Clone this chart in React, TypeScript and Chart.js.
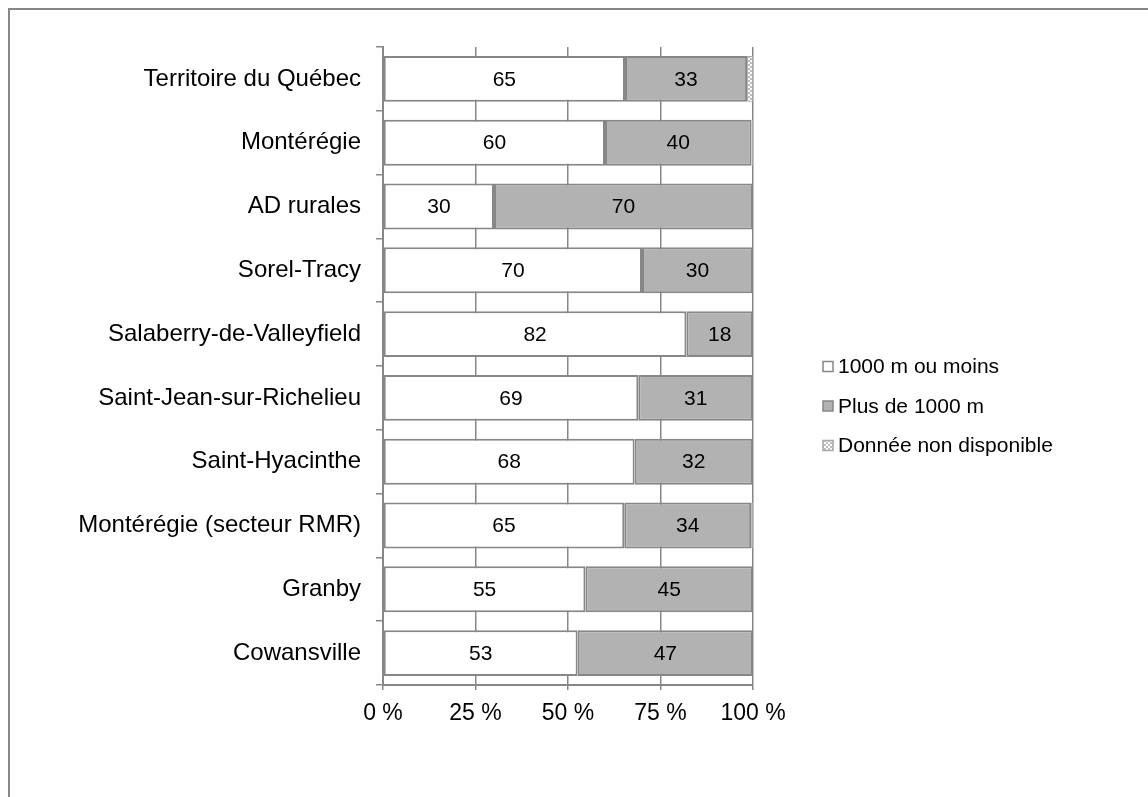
import React, { useEffect, useRef } from "react";
import { Chart, registerables } from "chart.js";

Chart.register(...registerables);

const categories = [
  "Territoire du Québec",
  "Montérégie",
  "AD rurales",
  "Sorel-Tracy",
  "Salaberry-de-Valleyfield",
  "Saint-Jean-sur-Richelieu",
  "Saint-Hyacinthe",
  "Montérégie (secteur RMR)",
  "Granby",
  "Cowansville",
];
const seriesNames = ["1000 m ou moins", "Plus de 1000 m", "Donnée non disponible"];
const within1000 = [65.4, 60.0, 30, 70, 82, 69, 68, 65.2, 54.7, 52.6];
const over1000 = [33.0, 39.6, 70, 30, 18, 31, 32, 34.3, 45.3, 47.4];
const notAvailable = [1.6, 0.4, 0, 0, 0, 0, 0, 0.5, 0, 0];
const xTickValues = [0, 25, 50, 75, 100];

const FONT = '"Liberation Sans", Arial, sans-serif';
const AXIS_GRAY = "#878787";

function makeCheckerPattern(): CanvasPattern | string {
  const c = document.createElement("canvas");
  c.width = 4;
  c.height = 4;
  const g = c.getContext("2d");
  if (!g) return "#dddddd";
  g.fillStyle = "#ffffff";
  g.fillRect(0, 0, 4, 4);
  g.fillStyle = "#bdbdbd";
  g.fillRect(0, 0, 2, 2);
  g.fillRect(2, 2, 2, 2);
  return g.createPattern(c, "repeat") || "#dddddd";
}

const valueLabels = {
  id: "valueLabels",
  afterDatasetsDraw(chart: any) {
    const ctx = chart.ctx;
    ctx.save();
    ctx.font = `21px ${FONT}`;
    ctx.fillStyle = "#000000";
    ctx.textAlign = "center";
    ctx.textBaseline = "middle";
    [0, 1].forEach((di) => {
      const meta = chart.getDatasetMeta(di);
      meta.data.forEach((el: any, i: number) => {
        const v = chart.data.datasets[di].data[i] as number;
        if (!v) return;
        const p = el.getProps(["x", "y", "base"], true);
        ctx.fillText(String(Math.round(v)), (p.x + p.base) / 2, p.y + 1);
      });
    });
    ctx.restore();
  },
};

const sideLegend = {
  id: "sideLegend",
  afterDraw(chart: any) {
    const ctx = chart.ctx;
    const area = chart.chartArea;
    const boxX = area.right + 70;
    const centerY = 406;
    const gap = 39.5;
    ctx.save();
    ctx.font = `21px ${FONT}`;
    ctx.textAlign = "left";
    ctx.textBaseline = "middle";
    chart.data.datasets.forEach((ds: any, i: number) => {
      const y = centerY + (i - 1) * gap;
      ctx.fillStyle = ds.backgroundColor;
      ctx.fillRect(boxX, y - 5, 10, 10);
      ctx.lineWidth = 1.5;
      ctx.strokeStyle = ds.borderColor;
      ctx.strokeRect(boxX, y - 5, 10, 10);
      ctx.fillStyle = "#000000";
      ctx.fillText(ds.label, boxX + 15, y + 1);
    });
    ctx.restore();
  },
};

export default function App() {
  const canvasRef = useRef<HTMLCanvasElement | null>(null);

  useEffect(() => {
    const canvas = canvasRef.current;
    if (!canvas) return;
    const pattern = makeCheckerPattern();
    const chart = new Chart(canvas, {
      type: "bar",
      data: {
        labels: categories,
        datasets: [
          {
            label: seriesNames[0],
            data: within1000,
            backgroundColor: "#ffffff",
            borderColor: AXIS_GRAY,
            borderWidth: 2,
            borderSkipped: false,
          },
          {
            label: seriesNames[1],
            data: over1000,
            backgroundColor: "#b2b2b2",
            borderColor: AXIS_GRAY,
            borderWidth: 2,
            borderSkipped: false,
          },
          {
            label: seriesNames[2],
            data: notAvailable,
            backgroundColor: pattern as any,
            borderColor: "#a8a8a8",
            borderWidth: 1,
            borderSkipped: false,
          },
        ],
      },
      options: {
        indexAxis: "y",
        responsive: false,
        animation: false,
        devicePixelRatio: 1,
        layout: { padding: { left: 0, top: 47, right: 395, bottom: 52 } },
        datasets: {
          bar: { categoryPercentage: 1, barPercentage: 0.72 },
        },
        plugins: {
          legend: { display: false },
          tooltip: { enabled: false },
          title: { display: false },
        },
        scales: {
          x: {
            stacked: true,
            min: 0,
            max: 100,
            afterBuildTicks(scale: any) {
              scale.ticks = xTickValues.map((v) => ({ value: v }));
            },
            afterFit(scale: any) {
              scale.height = 60;
            },
            ticks: {
              color: "#000000",
              font: { family: FONT, size: 23 },
              padding: 10,
              maxRotation: 0,
              callback: (v: any) => `${v} %`,
            },
            grid: {
              color: AXIS_GRAY,
              lineWidth: 1.5,
              drawTicks: true,
              tickLength: 5,
            },
            border: { display: true, color: AXIS_GRAY, width: 2 },
          },
          y: {
            stacked: true,
            afterFit(scale: any) {
              scale.width = 383;
            },
            ticks: {
              color: "#000000",
              font: { family: FONT, size: 24 },
              padding: 15,
            },
            grid: {
              display: true,
              offset: true,
              drawOnChartArea: false,
              drawTicks: true,
              tickLength: 7,
              color: AXIS_GRAY,
              lineWidth: 1.5,
            },
            border: { display: true, color: AXIS_GRAY, width: 2 },
          },
        },
      },
      plugins: [valueLabels, sideLegend],
    });
    return () => chart.destroy();
  }, []);

  return (
    <div style={{ position: "fixed", left: 0, top: 0, width: 1148, height: 797, background: "#ffffff", overflow: "hidden" }}>
      <div
        style={{
          position: "absolute",
          left: 8,
          top: 8,
          width: 1160,
          height: 810,
          borderLeft: `2px solid ${AXIS_GRAY}`,
          borderTop: `2px solid ${AXIS_GRAY}`,
          boxSizing: "border-box",
        }}
      />
      <canvas
        ref={canvasRef}
        width={1148}
        height={797}
        style={{ position: "absolute", left: 0, top: 0, width: 1148, height: 797 }}
      />
    </div>
  );
}
